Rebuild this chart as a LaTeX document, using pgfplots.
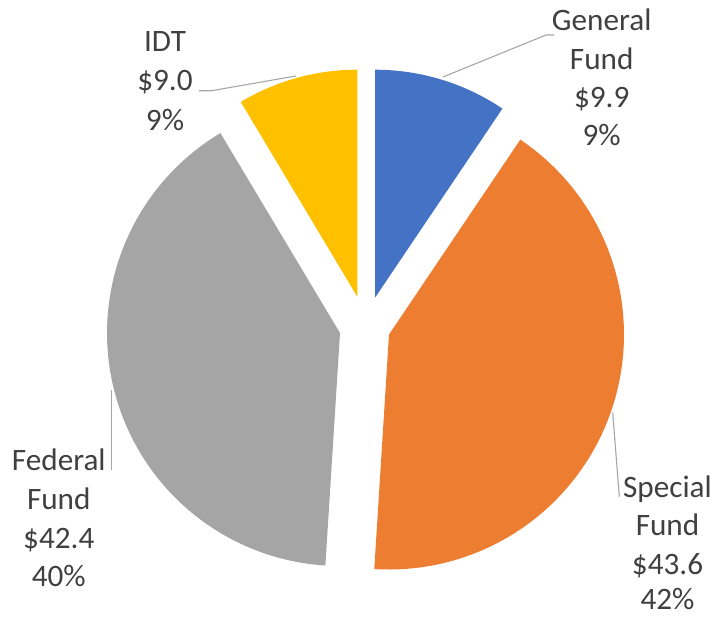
\documentclass[border=0pt]{standalone}
\usepackage{pgfplots}
\pgfplotsset{compat=1.18}
\usepackage{fontspec}
\setmainfont{Carlito}
\definecolor{cBlue}{HTML}{4472C4}
\definecolor{cOrange}{HTML}{ED7D31}
\definecolor{cGray}{HTML}{A5A5A5}
\definecolor{cYellow}{HTML}{FFC000}
\definecolor{txt}{HTML}{404040}
\definecolor{lead}{HTML}{A6A6A6}
% values ($M)
\def\vGF{9.9}
\def\vSF{43.6}
\def\vFF{42.4}
\def\vIDT{9.0}
\pgfmathsetmacro\tot{\vGF+\vSF+\vFF+\vIDT}
\pgfmathsetmacro\aA{360*\vGF/\tot}
\pgfmathsetmacro\aB{\aA+360*\vSF/\tot}
\pgfmathsetmacro\aC{\aB+360*\vFF/\tot}
\begin{document}
\begin{tikzpicture}
\useasboundingbox (0,0) rectangle (357.5pt,308pt);
\begin{axis}[
  scale only axis, width=357.5pt, height=308pt,
  xmin=0, xmax=715, ymin=0, ymax=616, y dir=reverse,
  hide axis, clip=false, samples=80,
]
% slices (angles clockwise from 12 o'clock)
\addplot[fill=cBlue, draw=none, domain=0:\aA] ({375+228*sin(x)},{297.7-228*cos(x)}) -- (axis cs:375,297.7) -- cycle;
\addplot[fill=cOrange, draw=none, domain=\aA:\aB] ({389+235*sin(x)},{334.5-235*cos(x)}) -- (axis cs:389,334.5) -- cycle;
\addplot[fill=cGray, draw=none, domain=\aB:\aC] ({340+233*sin(x)},{333-233*cos(x)}) -- (axis cs:340,333) -- cycle;
\addplot[fill=cYellow, draw=none, domain=\aC:360] ({357.3+227*sin(x)},{296.7-227*cos(x)}) -- (axis cs:357.3,296.7) -- cycle;
% leader lines
\addplot[draw=lead, line width=0.55pt] coordinates {(443,77) (546,35) (554,35)};
\addplot[draw=lead, line width=0.55pt] coordinates {(199,90.7) (211.7,90.7) (295.7,76)};
\addplot[draw=lead, line width=0.55pt] coordinates {(111.7,390) (111.7,470)};
\addplot[draw=lead, line width=0.55pt] coordinates {(612.7,412.7) (619.3,496.7)};
% labels
\begin{scope}[every node/.style={anchor=base, inner sep=0pt, text=txt, font=\fontsize{15.6}{19}\selectfont}]
\node at (axis cs:601.7,30.7) {General};
\node at (axis cs:601.7,69) {Fund};
\node at (axis cs:601.7,107.3) {\$9.9};
\node at (axis cs:601.7,145.7) {9\%};
\node at (axis cs:165,51.7) {IDT};
\node at (axis cs:165,90.7) {\$9.0};
\node at (axis cs:165,130) {9\%};
\node at (axis cs:58.8,470.7) {Federal};
\node at (axis cs:58.8,509.3) {Fund};
\node at (axis cs:58.8,548.3) {\$42.4};
\node at (axis cs:58.8,586.7) {40\%};
\node at (axis cs:667.5,497.3) {Special};
\node at (axis cs:667.5,535.7) {Fund};
\node at (axis cs:667.5,574.3) {\$43.6};
\node[text depth=0pt] at (axis cs:667.5,609.5) {42\%};
\end{scope}
\end{axis}
\end{tikzpicture}
\end{document}
